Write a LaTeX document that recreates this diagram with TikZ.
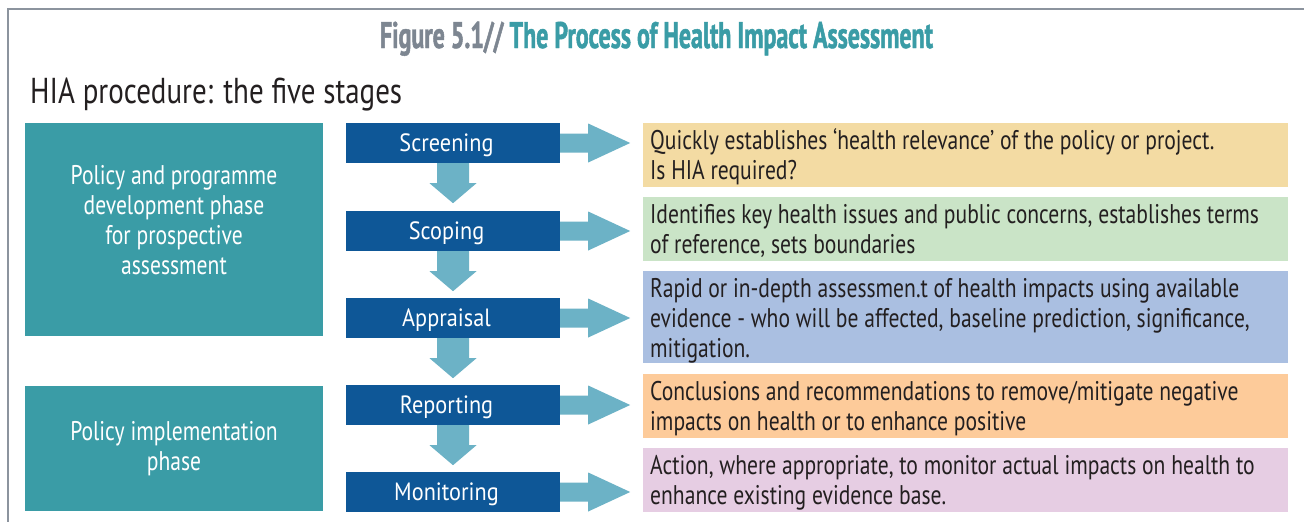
\documentclass[tikz,border=0pt]{standalone}
\usepackage{fontspec}
\usepackage{graphicx}
\setmainfont{PT Sans}[FakeStretch=0.80]
\newfontfamily\titlefont{PT Sans}[FakeStretch=0.6, BoldFeatures={FakeBold=1.2}]
\newfontfamily\stagefont{PT Sans}[FakeStretch=0.89]
\usetikzlibrary{calc}
\definecolor{cTeal}{HTML}{3A9CA6}
\definecolor{cBlue}{HTML}{0E5797}
\definecolor{cArrow}{HTML}{6CB2C6}
\definecolor{cYellow}{HTML}{F3DBA3}
\definecolor{cGreen}{HTML}{CAE4C7}
\definecolor{cLBlue}{HTML}{AABFE1}
\definecolor{cOrange}{HTML}{FDCB9A}
\definecolor{cLilac}{HTML}{E6CDE3}
\definecolor{cBorder}{HTML}{8C949E}
\definecolor{cTitleGray}{HTML}{7D8691}
\definecolor{cText}{HTML}{231F20}
\begin{document}
\begin{tikzpicture}[x=1pt,y=-1pt,
  phase/.style={fill=cTeal, minimum width=298pt, inner sep=0pt},
  phasetext/.style={text=white, align=center, inner sep=0pt,
    font=\fontsize{27pt}{30pt}\selectfont},
  stage/.style={fill=cBlue, text=white, minimum width=214pt, minimum height=40pt, inner sep=0pt,
    text height=18pt, text depth=1pt, font=\stagefont\fontsize{25pt}{28pt}\selectfont},
  desc/.style={minimum width=645pt, inner sep=0pt, anchor=north west},
  desctext/.style={anchor=base west, inner sep=0pt, text=cText,
    font=\fontsize{27pt}{30pt}\selectfont},
  flow/.style={fill=cArrow}]
\useasboundingbox (0,0) rectangle (1304,522);
\fill[white] (0,0) rectangle (1304,522);
\draw[cBorder, line width=2pt] (1304,9) -- (8,9) -- (8,522);

% headings
\node[inner sep=0pt, anchor=base] (title) at (656.5,48)
  {\resizebox{553pt}{\height}{\titlefont\bfseries\fontsize{37pt}{40pt}\selectfont\color{cTitleGray}Figure 5.1//\ \color{cTeal}The Process of Health Impact Assessment}};
\node[inner sep=0pt, anchor=base west, text=cText] (sub) at (30,103)
  {\resizebox{372pt}{\height}{\fontsize{36pt}{40pt}\selectfont HIA procedure: the five stages}};

% phases
\node[phase, minimum height=213pt] (p1) at (174,229.5) {};
\node[phasetext] (p1t) at ($(p1.center)+(0,-9)$)
  {Policy and programme\\development phase\\for prospective\\assessment};
\node[phase, minimum height=125pt] (p2) at (174,448.5) {};
\node[phasetext] (p2t) at (p2.center)
  {Policy implementation\\phase};

% stages
\node[stage] (s1) at (453,143) {\hspace*{-13pt}Screening};
\node[stage] (s2) at (453,231) {\hspace*{-13pt}Scoping};
\node[stage] (s3) at (453,318) {\hspace*{-13pt}Appraisal};
\node[stage] (s4) at (453,405) {\hspace*{-13pt}Reporting};
\node[stage] (s5) at (453,492) {\hspace*{-13pt}Monitoring};

% descriptions
\node[desc, fill=cYellow, minimum height=64pt] (d1) at (643,123) {};
\node[desc, fill=cGreen, minimum height=64pt] (d2) at (643,197) {};
\node[desc, fill=cLBlue, minimum height=92pt] (d3) at (643,271) {};
\node[desc, fill=cOrange, minimum height=64pt] (d4) at (643,374) {};
\node[desc, fill=cLilac, minimum height=64pt] (d5) at (643,448) {};

\node[desctext] (t1) at ($(d1.north west)+(7,26)$)
  {\parbox[t]{635pt}{\raggedright Quickly establishes ‘health relevance’ of the policy or project.\\Is HIA required?}};
\node[desctext] (t2) at ($(d2.north west)+(7,26)$)
  {\parbox[t]{635pt}{\raggedright Identifies key health issues and public concerns, establishes terms\\of reference, sets boundaries}};
\node[desctext] (t3) at ($(d3.north west)+(7,26)$)
  {\parbox[t]{635pt}{\raggedright Rapid or in-depth assessmen.t of health impacts using available\\evidence - who will be affected, baseline prediction, significance,\\mitigation.}};
\node[desctext] (t4) at ($(d4.north west)+(7,26)$)
  {\parbox[t]{635pt}{\raggedright Conclusions and recommendations to remove/mitigate negative\\impacts on health or to enhance positive}};
\node[desctext] (t5) at ($(d5.north west)+(7,26)$)
  {\parbox[t]{635pt}{\raggedright Action, where appropriate, to monitor actual impacts on health to\\enhance existing evidence base.}};

% down arrows
\foreach \a in {s1,s2,s3,s4}{
  \fill[flow, shift={(\a.south)}] (-16,0) -- (-16,20) -- (-23.5,20) -- (0,40)
    -- (23.5,20) -- (16,20) -- (16,0) -- cycle;
}
% right arrows
\foreach \a in {s1,s2,s3,s4,s5}{
  \fill[flow, shift={(\a.east)}] (0,-9.5) -- (28,-9.5) -- (28,-19.5) -- (70,0)
    -- (28,19.5) -- (28,9.5) -- (0,9.5) -- cycle;
}
\end{tikzpicture}
\end{document}
